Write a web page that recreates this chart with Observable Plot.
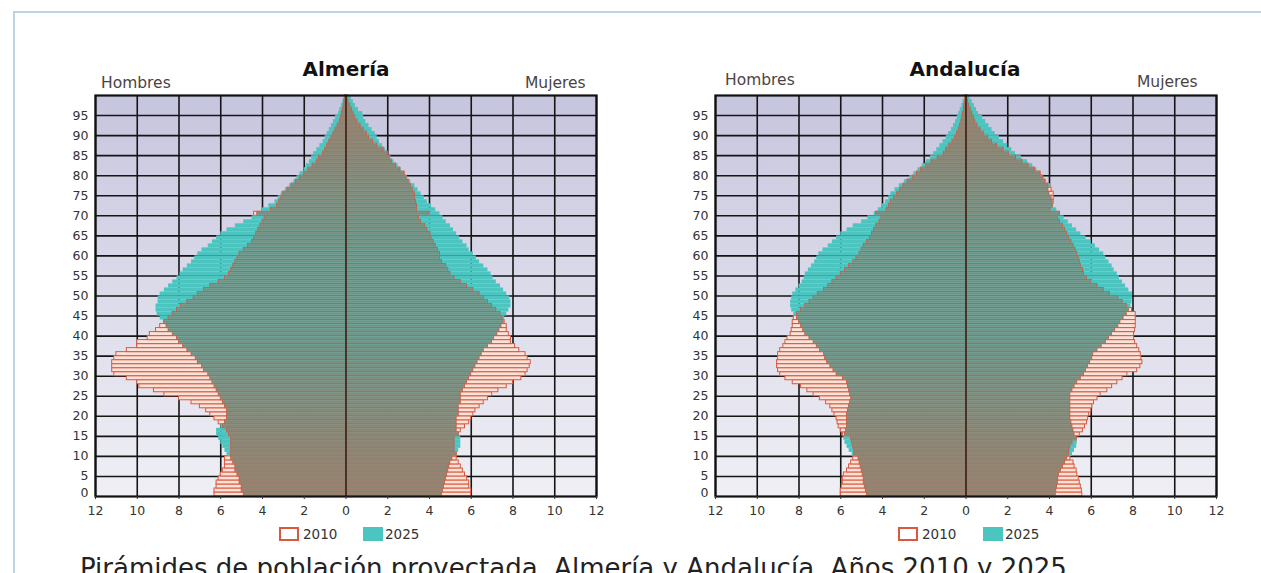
<!DOCTYPE html>
<html><head><meta charset="utf-8">
<script src="https://cdn.jsdelivr.net/npm/d3@7"></script>
<script src="https://cdn.jsdelivr.net/npm/@observablehq/plot@0.6"></script>
<style>
html,body{margin:0;padding:0;background:#fff;}
body{width:1261px;height:573px;overflow:hidden;position:relative;font-family:"DejaVu Sans",sans-serif;}
.abs{position:absolute;white-space:nowrap;line-height:1;}
.title{font-weight:bold;font-size:20px;color:#111;transform:translateX(-50%);}
.side{font-size:15.5px;color:#4a4444;}
.leg{font-size:13.5px;color:#333;}
.box10{position:absolute;width:16px;height:10px;border:2px solid #d9583e;background:#fff;}
.box25{position:absolute;width:20px;height:14px;background:#4cc4c0;}
.chart{position:absolute;}
</style></head><body>
<div class="abs" style="left:13px;top:11px;width:1248px;height:2px;background:#bcd3e4"></div>
<div class="abs" style="left:13px;top:11px;width:2px;height:562px;background:#bcd3e4"></div>

<div class="abs title" style="left:346px;top:59px">Almería</div>
<div class="abs side" style="left:101px;top:76px">Hombres</div>
<div class="abs side" style="left:525px;top:76px">Mujeres</div>
<div class="abs title" style="left:965px;top:59px">Andalucía</div>
<div class="abs side" style="left:725px;top:73px">Hombres</div>
<div class="abs side" style="left:1137px;top:75px">Mujeres</div>

<div id="c1" class="chart" style="left:40px;top:85px"></div>
<div id="c2" class="chart" style="left:660px;top:85px"></div>

<div class="box10" style="left:279px;top:527px"></div>
<div class="abs leg" style="left:303px;top:528px">2010</div>
<div class="box25" style="left:363px;top:527px"></div>
<div class="abs leg" style="left:385px;top:528px">2025</div>
<div class="box10" style="left:898px;top:527px"></div>
<div class="abs leg" style="left:922px;top:528px">2010</div>
<div class="box25" style="left:983px;top:527px"></div>
<div class="abs leg" style="left:1005px;top:528px">2025</div>

<div class="abs" style="left:80px;top:555px;font-size:26px;color:#222">Pirámides de población proyectada. Almería y Andalucía. Años 2010 y 2025</div>

<script>
// ---- data (thousands of persons by single year of age, 0..99) ----
const ages = d3.range(0, 100);
const xTicks = [-12,-10,-8,-6,-4,-2,0,2,4,6,8,10,12];
const yTicks = [0,5,10,15,20,25,30,35,40,45,50,55,60,65,70,75,80,85,90,95];

const almeriaHombres2010 = [6.3,6.3,6.2,6.2,6.1, 6.0,5.9,5.8,5.8,5.8, 5.5,5.5,5.5,5.5,5.5, 5.6,5.7,5.9,6.1,6.3, 6.5,6.7,7.0,7.4,8.0, 8.7,9.2,9.9,10.0,10.5, 11.1,11.2,11.2,11.2,11.1, 11.0,10.5,10.0,10.0,9.5, 9.4,9.1,8.9,8.7,8.5, 8.3,8.1,7.9,7.6,7.3, 7.1,6.8,6.5,6.1,5.8, 5.6,5.5,5.4,5.3,5.2, 5.1,4.9,4.7,4.5,4.4, 4.3,4.2,4.1,4.0,3.9, 4.4,3.6,3.3,3.2,3.1, 3.0,2.8,2.6,2.4,2.2, 2.0,1.8,1.6,1.4,1.3, 1.1,1.0,0.9,0.8,0.7, 0.6,0.5,0.4,0.3,0.25, 0.2,0.15,0.1,0.08,0.05];
const almeriaHombres2025 = [4.9,5.0,5.0,5.1,5.1, 5.2,5.3,5.3,5.4,5.5, 5.7,5.8,5.9,6.0,6.1, 6.2,6.2,6.0,5.8,5.7, 5.7,5.7,5.8,5.9,6.0, 6.1,6.2,6.3,6.4,6.5, 6.6,6.8,6.9,7.1,7.2, 7.4,7.6,7.8,8.0,8.1, 8.3,8.5,8.6,8.75,8.9, 9.05,9.1,9.1,9.0,9.0, 8.9,8.7,8.5,8.3,8.1, 7.95,7.8,7.6,7.4,7.25, 7.1,6.9,6.6,6.4,6.2, 6.0,5.7,5.3,4.9,4.5, 4.25,4.0,3.7,3.4,3.25, 3.1,2.9,2.7,2.5,2.35, 2.2,2.0,1.9,1.75,1.65, 1.55,1.4,1.25,1.1,1.0, 0.9,0.8,0.7,0.6,0.5, 0.36,0.3,0.22,0.15,0.1];
const almeriaMujeres2010 = [6.0,6.0,5.9,5.9,5.8, 5.7,5.6,5.5,5.4,5.3, 5.3,5.2,5.2,5.2,5.2, 5.4,5.5,5.7,5.9,6.0, 6.1,6.2,6.4,6.6,6.8, 7.0,7.3,7.7,8.0,8.4, 8.6,8.7,8.8,8.85,8.7, 8.6,8.3,8.1,7.9,7.9, 7.8,7.7,7.7,7.6,7.5, 7.4,7.2,7.0,6.8,6.6, 6.4,6.1,5.8,5.5,5.2, 5.0,4.9,4.8,4.6,4.5, 4.5,4.4,4.3,4.2,4.1, 4.05,3.9,3.8,3.6,3.5, 4.0,3.4,3.4,3.35,3.3, 3.3,3.2,3.1,3.0,2.9, 2.8,2.6,2.4,2.2,2.1, 2.0,1.8,1.5,1.3,1.1, 1.0,0.85,0.7,0.55,0.45, 0.37,0.28,0.2,0.12,0.08];
const almeriaMujeres2025 = [4.6,4.65,4.7,4.75,4.8, 4.85,4.9,4.95,5.0,5.1, 5.3,5.4,5.5,5.5,5.5, 5.4,5.3,5.3,5.3,5.3, 5.4,5.4,5.4,5.5,5.5, 5.5,5.6,5.7,5.8,5.9, 6.0,6.1,6.2,6.3,6.4, 6.5,6.6,6.8,7.0,7.1, 7.25,7.35,7.45,7.55,7.6, 7.7,7.8,7.9,7.9,7.85, 7.7,7.55,7.4,7.2,7.05, 6.95,6.8,6.6,6.4,6.25, 6.1,5.9,5.8,5.6,5.45, 5.3,5.15,5.0,4.8,4.65, 4.5,4.3,4.1,3.9,3.75, 3.6,3.45,3.3,3.1,2.95, 2.8,2.65,2.5,2.3,2.15, 2.0,1.9,1.75,1.6,1.5, 1.4,1.25,1.1,0.95,0.85, 0.8,0.6,0.45,0.35,0.25];

const andaluciaHombres2010 = [6.0,6.0,5.95,5.9,5.9, 5.85,5.7,5.6,5.5,5.4, 5.35,5.35,5.4,5.45,5.5, 5.9,6.0,6.1,6.15,6.2, 6.3,6.4,6.5,6.7,7.0, 7.3,7.6,7.9,8.3,8.65, 8.9,9.0,9.05,9.05,9.0, 9.0,8.9,8.75,8.65,8.55, 8.4,8.35,8.3,8.3,8.25, 8.1,7.9,7.7,7.5,7.3, 7.1,6.8,6.6,6.4,6.2, 6.0,5.8,5.6,5.4,5.25, 5.1,5.0,4.9,4.75,4.6, 4.5,4.4,4.3,4.15,4.05, 4.3,3.8,3.7,3.6,3.45, 3.3,3.15,3.0,2.8,2.55, 2.35,2.15,1.9,1.65,1.35, 1.07,0.95,0.8,0.65,0.52, 0.43,0.35,0.28,0.22,0.18, 0.15,0.1,0.08,0.05,0.03];
const andaluciaHombres2025 = [4.75,4.8,4.85,4.9,4.9, 4.95,5.0,5.05,5.1,5.15, 5.45,5.6,5.7,5.8,5.85, 5.8,5.75,5.7,5.7,5.7, 5.7,5.65,5.6,5.55,5.5, 5.55,5.6,5.65,5.7,5.9, 6.2,6.35,6.5,6.65,6.75, 6.8,7.0,7.15,7.3,7.5, 7.7,7.8,7.9,8.0,8.1, 8.25,8.35,8.4,8.4,8.35, 8.3,8.15,8.0,7.85,7.75, 7.7,7.55,7.4,7.25,7.15, 7.05,6.85,6.6,6.4,6.2, 6.0,5.7,5.4,5.0,4.7, 4.4,4.2,4.0,3.85,3.7, 3.6,3.4,3.2,2.95,2.7, 2.5,2.3,2.1,1.9,1.7, 1.55,1.4,1.25,1.1,0.95, 0.83,0.7,0.6,0.5,0.42, 0.35,0.28,0.2,0.14,0.08];
const andaluciaMujeres2010 = [5.57,5.55,5.5,5.45,5.4, 5.33,5.3,5.2,5.15,5.0, 4.93,4.95,5.0,5.1,5.3, 5.45,5.6,5.7,5.8,5.85, 5.9,6.0,6.05,6.13,6.3, 6.45,6.77,7.0,7.25,7.5, 7.73,8.2,8.35,8.45,8.4, 8.37,8.3,8.2,8.1,8.05, 8.05,8.1,8.13,8.13,8.13, 8.13,7.95,7.7,7.5,7.3, 6.9,6.6,6.3,6.0,5.8, 5.65,5.6,5.5,5.45,5.4, 5.33,5.25,5.15,5.05,4.95, 4.85,4.75,4.65,4.5,4.4, 4.5,4.05,4.15,4.2,4.2, 4.2,4.1,3.95,3.8,3.7, 3.57,3.3,3.0,2.7,2.4, 2.05,1.8,1.5,1.25,1.05, 0.85,0.7,0.55,0.45,0.38, 0.3,0.22,0.15,0.1,0.06];
const andaluciaMujeres2025 = [4.3,4.33,4.36,4.4,4.42, 4.45,4.55,4.65,4.75,4.85, 5.1,5.2,5.3,5.33,5.3, 5.2,5.15,5.1,5.05,5.0, 5.0,5.0,5.0,5.0,5.0, 5.0,5.1,5.2,5.33,5.5, 5.65,5.75,5.85,5.95,6.05, 6.1,6.3,6.5,6.7,6.85, 7.0,7.15,7.3,7.4,7.55, 7.7,7.8,7.9,7.95,7.97, 7.97,7.8,7.65,7.5,7.35, 7.25,7.1,7.0,6.85,6.7, 6.6,6.4,6.2,6.0,5.75, 5.5,5.3,5.1,4.9,4.7, 4.5,4.35,4.2,4.15,4.1, 4.0,3.95,4.05,3.85,3.7, 3.57,3.4,3.2,2.95,2.65, 2.37,2.2,2.0,1.8,1.6, 1.4,1.25,1.1,0.95,0.8, 0.6,0.5,0.4,0.3,0.2];

// ---- build rows ----
function buildRows(m10, m25, w10, w25) {
  return ages.flatMap((a, i) => [
    {age: a, s: -1, v10: m10[i], v25: m25[i]},
    {age: a, s: 1, v10: w10[i], v25: w25[i]}
  ]);
}

function pyramid(rows, gid) {
  const band = {y1: d => d.age, y2: d => d.age + 1};
  const svg = Plot.plot({
    width: 576, height: 441,
    marginLeft: 55, marginRight: 20, marginTop: 10, marginBottom: 30,
    style: {fontFamily: "DejaVu Sans", fontSize: "12.5px", color: "#333", background: "transparent"},
    x: {domain: [-12, 12], axis: null},
    y: {domain: [0, 100], axis: null},
    marks: [
      Plot.frame({fill: "#dcdcea"}),
      Plot.ruleX(xTicks, {stroke: "#151515", strokeWidth: 1.6}),
      Plot.ruleY(yTicks.filter(t => t > 0), {stroke: "#151515", strokeWidth: 1.6}),
      // 2010: red outlined bars
      Plot.rect(rows, {...band, x1: d => 0, x2: d => d.s * d.v10,
        fill: "#fbe2d8", stroke: "#d9583e", strokeWidth: 1}),
      // 2025: teal bars
      Plot.rect(rows, {...band, x1: d => 0, x2: d => d.s * d.v25, fill: "#4cc4c0"}),
      // overlap of both years
      Plot.rect(rows, {...band, x1: d => 0, x2: d => d.s * Math.min(d.v10, d.v25),
        fill: "#8f8573", insetTop: 0.9, insetBottom: 0.9}),
      Plot.rect(rows, {...band, x1: d => 0, x2: d => d.s * Math.min(d.v10, d.v25),
        fill: "none", stroke: "#cf5a40", strokeWidth: 0.8}),
      Plot.ruleX([0], {stroke: "#3b1d16", strokeWidth: 1.6}),
      Plot.frame({stroke: "#111", strokeWidth: 2.2}),
      Plot.axisX({ticks: xTicks, tickFormat: d => Math.abs(d), tickSize: 3, tickPadding: 7}),
      Plot.axisY({ticks: yTicks.filter(t => t > 0), tickFormat: d => String(d), tickSize: 0, tickPadding: 7}),
      Plot.axisY({ticks: [0], tickFormat: d => String(d), tickSize: 0, tickPadding: 7, dy: -4})
    ]
  });
  const ns = "http://www.w3.org/2000/svg";
  const defs = document.createElementNS(ns, "defs");
  defs.innerHTML = `<linearGradient id="${gid}" x1="0" y1="0" x2="0" y2="1"><stop offset="0" stop-color="#c6c5de"/><stop offset="0.5" stop-color="#dcdbea"/><stop offset="1" stop-color="#efeff5"/></linearGradient>`;
  svg.insertBefore(defs, svg.firstChild);
  const fr = svg.querySelector('[aria-label="frame"]');
  if (fr) {
    fr.setAttribute("fill", `url(#${gid})`);
    fr.querySelectorAll("rect").forEach(r => r.setAttribute("fill", `url(#${gid})`));
  }
  return svg;
}

document.getElementById("c1").appendChild(
  pyramid(buildRows(almeriaHombres2010, almeriaHombres2025, almeriaMujeres2010, almeriaMujeres2025), "bgAlm"));
document.getElementById("c2").appendChild(
  pyramid(buildRows(andaluciaHombres2010, andaluciaHombres2025, andaluciaMujeres2010, andaluciaMujeres2025), "bgAnd"));
</script>
</body></html>
